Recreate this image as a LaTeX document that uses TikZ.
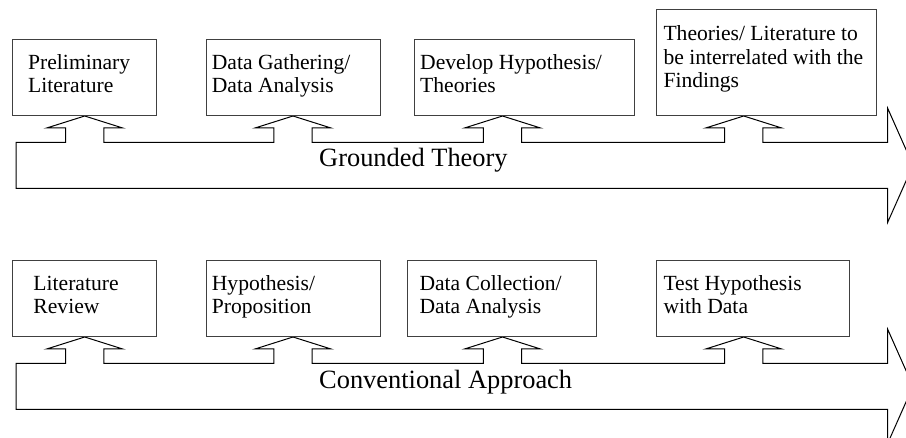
\documentclass[tikz,border=0pt]{standalone}
\usepackage{fontspec}
\setmainfont{Liberation Serif}
\usetikzlibrary{fit}

\tikzset{
  stagebox/.style={draw=black!75, line width=1pt, inner sep=0pt, fill=white},
  % anchored at the baseline of the last line
  stagetext/.style={anchor=base west, inner sep=0pt, align=left,
    font=\fontsize{21.6pt}{23.8pt}\selectfont},
  bandtext/.style={anchor=base west, inner sep=0pt,
    font=\fontsize{26.4pt}{30pt}\selectfont},
  bandarrow/.style={draw=black, line width=1pt, line join=miter},
}

% a stage box given by its corners
\newcommand{\stagebox}[5]{\node[stagebox, fit={(#2,#3) (#4,#5)}] (#1) {};}

% the long process arrow with a notch under each stage
\newcommand{\processband}{%
  \draw[bandarrow] (16,188.3) -- (16,142.3)
    foreach \a in {84.7,293,502.5,743.7} {
      -- (\a-19.2,142.3) -- (\a-19.2,128) -- (\a-38,128) -- (\a,116)
      -- (\a+38,128) -- (\a+19.2,128) -- (\a+19.2,142.3)
    }
    -- (887.7,142.3) -- (887.7,108.3) -- (913,165.3) -- (887.7,222.3)
    -- (887.7,188.3) -- cycle;}

\begin{document}
\begin{tikzpicture}[x=1pt, y=-1pt]
\useasboundingbox (0,0) rectangle (906,438);
\clip (0,0) rectangle (906,438);

% ---- Grounded Theory ----
\processband
\stagebox{g1}{12.5}{40}{156.5}{116}
\stagebox{g2}{206}{40}{380.3}{116}
\stagebox{g3}{414.5}{40}{634}{116}
\stagebox{g4}{656}{10}{876}{116}
\node[stagetext] (g1t) at (28,93) {Preliminary\\Literature};
\node[stagetext] (g2t) at (211.7,93) {Data Gathering/\\Data Analysis};
\node[stagetext] (g3t) at (420,93) {Develop Hypothesis/\\Theories};
\node[stagetext] (g4t) at (663.3,88) {Theories/ Literature to\\be interrelated with the\\Findings};
\node[bandtext] (gl) at (319,166.7) {Grounded Theory};

% ---- Conventional Approach ----
\begin{scope}[shift={(0,221)}]
\processband
\end{scope}
\stagebox{c1}{12.5}{261}{156.5}{337}
\stagebox{c2}{206}{261}{380.3}{337}
\stagebox{c3}{407.3}{261}{596}{337}
\stagebox{c4}{656}{261}{849.3}{337}
\node[stagetext] (c1t) at (33.3,314) {Literature\\Review};
\node[stagetext] (c2t) at (211.7,314) {Hypothesis/\\Proposition};
\node[stagetext] (c3t) at (419.3,314) {Data Collection/\\Data Analysis};
\node[stagetext] (c4t) at (663.3,314) {Test Hypothesis\\with Data};
\node[bandtext] (cl) at (319,388.5) {Conventional Approach};
\end{tikzpicture}
\end{document}
